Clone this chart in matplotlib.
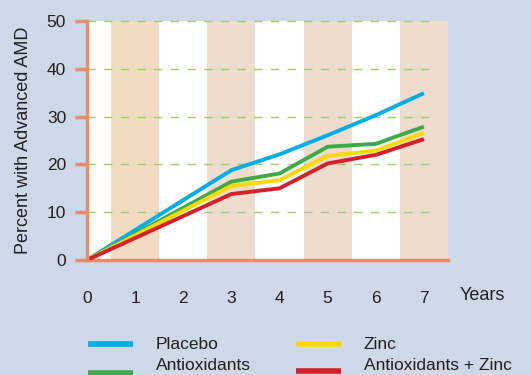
import matplotlib.pyplot as plt

# Percent of patients with advanced AMD by year of follow-up
years = [0, 3, 4, 5, 6, 7]
placebo = [0, 18.8, 22.1, 26.1, 30.3, 34.9]
antioxidants = [0, 16.4, 18.1, 23.7, 24.3, 27.9]
zinc = [0, 15.5, 16.7, 21.8, 22.9, 26.6]
antiox_zinc = [0, 13.8, 15.0, 20.2, 22.0, 25.3]

xticks = [0, 1, 2, 3, 4, 5, 6, 7]
yticks = [0, 10, 20, 30, 40, 50]
band_starts = [0.5, 2.5, 4.5, 6.5]
band_colors = ['#F2DCC1', '#EEDCCF', '#EEDCCF', '#EEDCCF']

bg = '#CDD8E8'
spine = '#E68E6A'
text_col = '#231F20'

plt.rcParams['font.family'] = ['Liberation Sans', 'DejaVu Sans']

fig = plt.figure(figsize=(5.31, 3.75), dpi=100, facecolor=bg)
ax = fig.add_axes([87 / 531, 1 - 260 / 375, 361 / 531, 239 / 375])
ax.set_facecolor('white')

# Alternating year bands
for start, col in zip(band_starts, band_colors):
    ax.axvspan(start, start + 1, color=col, lw=0, zorder=0)

# Dashed green guides
for y in yticks[1:]:
    ax.plot([0, 7.2], [y, y], color='#9FCF6A', lw=1.0, dashes=(6, 6),
            zorder=1, clip_on=False)

series = [
    (placebo, '#00AEEA', 'Placebo'),
    (antioxidants, '#3DAA48', 'Antioxidants'),
    (zinc, '#FFD800', 'Zinc'),
    (antiox_zinc, '#D62029', 'Antioxidants + Zinc'),
]
for vals, col, name in series:
    ax.plot(years, vals, color=col, lw=2.8, solid_capstyle='butt', zorder=3)

ax.set_xlim(0, 7.5)
ax.set_ylim(0, 50)
ax.set_yticks(yticks)
ax.set_xticks(xticks)
ax.tick_params(axis='y', colors=spine, length=9, width=2.5, pad=6,
               labelcolor=text_col, labelsize=12.5)
ax.tick_params(axis='x', length=0, pad=22, labelcolor=text_col,
               labelsize=12.5)
for s in ['top', 'right']:
    ax.spines[s].set_visible(False)
for s in ['left', 'bottom']:
    ax.spines[s].set_color(spine)
    ax.spines[s].set_linewidth(2.5)
ax.spines['left'].set_zorder(5)

ax.set_ylabel('Percent with Advanced AMD', fontsize=13, color=text_col,
              labelpad=11)
fig.text(460 / 531, 1 - 296 / 375, 'Years', fontsize=13, color=text_col,
         va='center', ha='left')

# Legend in two columns along the bottom
legend_pos = [(88, 344), (88, 373), (296, 344), (296, 371)]
for (vals, col, name), (lx, ly) in zip(series, legend_pos):
    fig.add_artist(plt.Line2D([lx / 531, (lx + 45) / 531],
                              [1 - ly / 375, 1 - ly / 375],
                              color=col, lw=4, solid_capstyle='butt'))
    fig.text((lx + 68) / 531, 1 - min(ly + 5, 370) / 375, name,
             fontsize=12.5, color=text_col, va='baseline', ha='left')

fig.savefig('out.png', dpi=100, facecolor=bg)
